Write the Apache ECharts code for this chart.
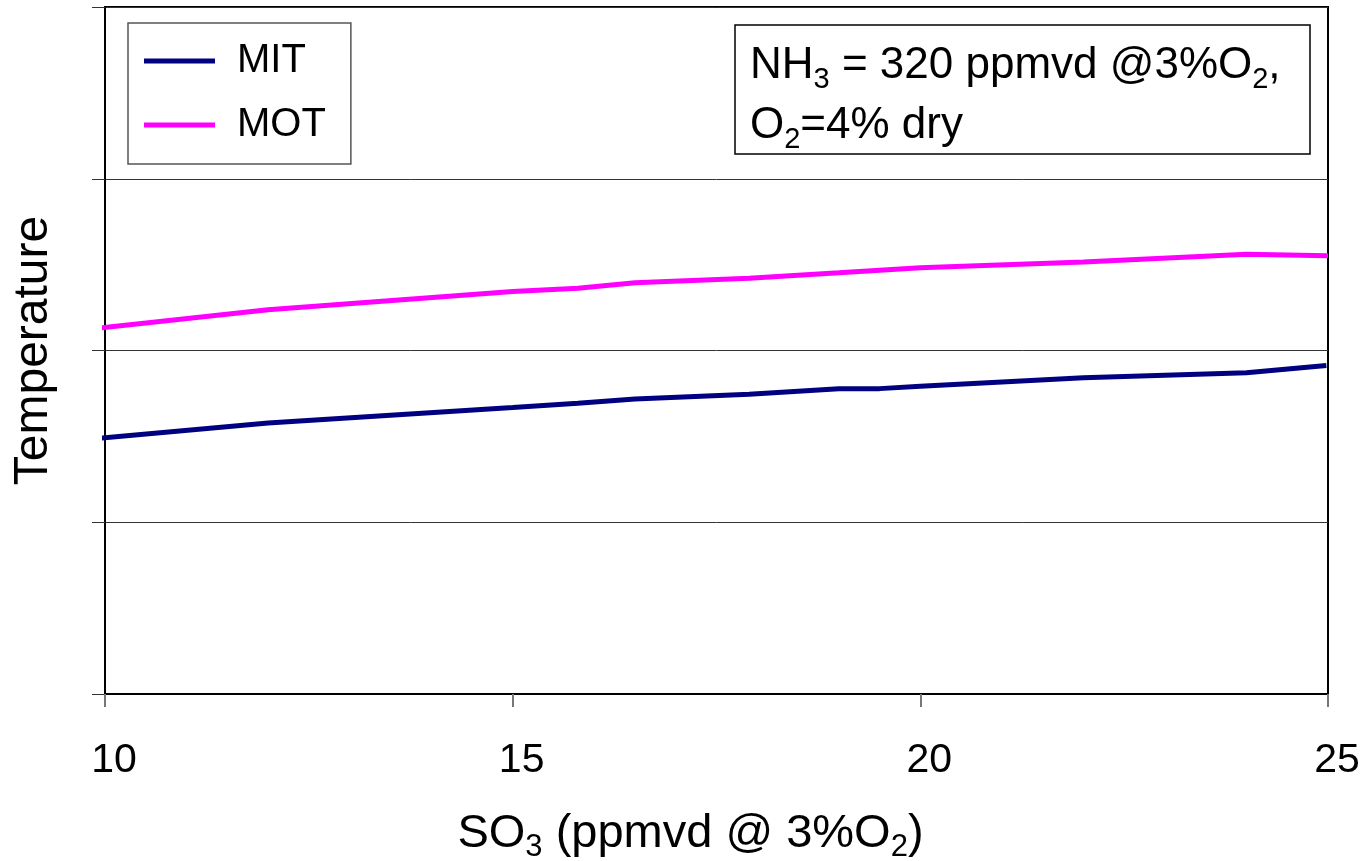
<!DOCTYPE html>
<html>
<head>
<meta charset="utf-8">
<script src="https://cdn.jsdelivr.net/npm/echarts@6/dist/echarts.min.js"></script>
<style>
html,body{margin:0;padding:0;background:#fff;}
#chart{width:1365px;height:861px;}
</style>
</head>
<body>
<div id="chart"></div>
<script>
// SO3 (ppmvd @ 3%O2) positions of each series' vertices
const mitX = [9.92, 12, 15, 15.8, 16.5, 17.9, 19, 19.5, 20, 22, 24, 24.98];
const mitY = [1.489, 1.578, 1.668, 1.693, 1.718, 1.745, 1.777, 1.778, 1.792, 1.841, 1.870, 1.913];
const motX = [9.95, 12, 15, 15.8, 16.5, 17.9, 19, 20, 22, 24, 25];
const motY = [2.132, 2.237, 2.344, 2.363, 2.395, 2.420, 2.452, 2.482, 2.515, 2.560, 2.552];
const seriesNames = ['MIT', 'MOT'];
const xTicks = [10, 15, 20, 25];

const FONT = '"Liberation Sans", Arial, sans-serif';
const chart = echarts.init(document.getElementById('chart'));

const option = {
  backgroundColor: '#fff',
  animation: false,
  grid: {left: 105, right: 37, top: 7, bottom: 167, outerBoundsMode: 'none', containLabel: false,
         show: true, borderColor: '#000', borderWidth: 2, backgroundColor: 'transparent'},
  title: {
    left: 735, top: 17,
    padding: [19, 30, 0, 15],
    borderColor: '#000', borderWidth: 1.5,
    text: '{a|NH}{s|3}{a| = 320 ppmvd @3%O}{s|2}{a|,}\n{a|O}{s|2}{a|=4% dry}',
    textStyle: {
      fontSize: 44, fontWeight: 'normal', fontFamily: FONT, color: '#000',
      rich: {
        a: {fontSize: 44, fontFamily: FONT, color: '#000', lineHeight: 60, verticalAlign: 'middle'},
        s: {fontSize: 29, fontFamily: FONT, color: '#000', verticalAlign: 'top', padding: [29, 0, 0, 0]}
      }
    }
  },
  legend: {
    left: 128, top: 23, orient: 'vertical',
    padding: [18, 25, 19, 16],
    borderColor: '#555', borderWidth: 1.5,
    backgroundColor: '#fff',
    icon: 'rect', itemWidth: 71, itemHeight: 5, itemGap: 24,
    textStyle: {fontSize: 40, fontFamily: FONT, color: '#000', lineHeight: 40, padding: [0, 0, 0, 17]},
    data: seriesNames
  },
  xAxis: {
    type: 'value', min: 10, max: 25, interval: 5,
    axisLine: {show: true, lineStyle: {color: '#000', width: 2}},
    axisTick: {show: true, inside: false, length: 13, lineStyle: {color: '#777', width: 2}},
    axisLabel: {
      fontSize: 41, fontFamily: FONT, color: '#000', margin: 46,
      padding: [0, 0, 0, 18],
      customValues: xTicks
    },
    splitLine: {show: false},
    name: '{a|SO}{s|3}{a| (ppmvd @ 3%O}{s|2}{a|)}',
    nameLocation: 'middle', nameGap: 110,
    nameTextStyle: {
      fontSize: 47, fontFamily: FONT, color: '#000', padding: [0, 52, 0, 0],
      rich: {
        a: {fontSize: 47, fontFamily: FONT, color: '#000', lineHeight: 60, verticalAlign: 'middle'},
        s: {fontSize: 31, fontFamily: FONT, color: '#000', verticalAlign: 'top', padding: [28, 0, 0, 0]}
      }
    }
  },
  yAxis: {
    type: 'value', min: 0, max: 4, interval: 1,
    axisLine: {show: true, lineStyle: {color: '#000', width: 2}},
    axisTick: {show: true, inside: false, length: 13, lineStyle: {color: '#333', width: 1}},
    axisLabel: {show: false},
    splitLine: {show: true, lineStyle: {color: '#333', width: 1}},
    name: 'Temperature', nameLocation: 'middle', nameGap: 47, nameRotate: 90,
    nameTextStyle: {fontSize: 48, fontFamily: FONT, color: '#000'}
  },
  series: [
    {
      name: seriesNames[0], type: 'line', clip: false, showSymbol: false, symbol: 'none',
      lineStyle: {color: '#000080', width: 5}, itemStyle: {color: '#000080'},
      data: mitX.map((x, i) => [x, mitY[i]])
    },
    {
      name: seriesNames[1], type: 'line', clip: false, showSymbol: false, symbol: 'none',
      lineStyle: {color: '#FF00FF', width: 5}, itemStyle: {color: '#FF00FF'},
      data: motX.map((x, i) => [x, motY[i]])
    }
  ]
};
chart.setOption(option);
</script>
</body>
</html>
